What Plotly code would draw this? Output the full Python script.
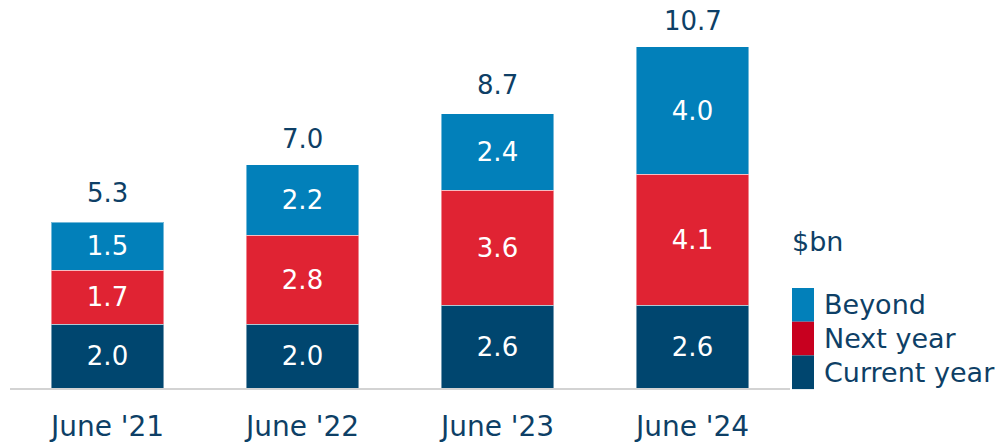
import plotly.graph_objects as go

categories = ["June '21", "June '22", "June '23", "June '24"]
current_year = [2.0, 2.0, 2.6, 2.6]
next_year = [1.7, 2.8, 3.6, 4.1]
beyond = [1.5, 2.2, 2.4, 4.0]
totals = [5.3, 7.0, 8.7, 10.7]
series_names = ["Current year", "Next year", "Beyond"]

NAVY = "#00466F"
RED = "#E02333"
BLUE = "#0280BA"
LEG_RED = "#C8001F"
TEXT = "#0E3F66"
FONT = "DejaVu Sans"
FS = 26
FS_TXT = 28
FS_LEG = 27

# page offset (body margin) 8px; plot area in page coords: x 10..790, y 8..388
OFF = 8
PX0, PX1, PY0, PY1 = 10, 790, 8, 388


def px(x):
    return (x - PX0) / (PX1 - PX0)


def py(y):
    return (PY1 - y) / (PY1 - PY0)


fig = go.Figure()
for name, vals, col in [(series_names[0], current_year, NAVY),
                        (series_names[1], next_year, RED),
                        (series_names[2], beyond, BLUE)]:
    fig.add_trace(go.Bar(
        x=categories, y=vals, name=name,
        marker=dict(color=col, line=dict(color="rgba(255,255,255,0.45)", width=1)),
        width=0.575,
        texttemplate="%{y:.1f}", textposition="inside", insidetextanchor="middle",
        textfont=dict(color="white", size=FS, family=FONT),
        constraintext="none", showlegend=False, hoverinfo="skip",
    ))

for c, t in zip(categories, totals):
    fig.add_annotation(x=c, y=t, text=f"{t:.1f}", showarrow=False,
                       yanchor="middle", yshift=26,
                       font=dict(color=TEXT, size=FS, family=FONT))

# manual legend
leg_items = [(series_names[2], BLUE), (series_names[1], LEG_RED), (series_names[0], NAVY)]
box_top = 288
box_h = 33.7
for i, (name, col) in enumerate(leg_items):
    y0 = box_top + i * box_h
    y1 = y0 + box_h
    fig.add_shape(type="rect", xref="paper", yref="paper",
                  x0=px(792), x1=px(814), y0=py(y1), y1=py(y0),
                  fillcolor=col, line=dict(width=0))
    fig.add_annotation(xref="paper", yref="paper",
                       x=px(822), y=py((y0 + y1) / 2),
                       xanchor="left", yanchor="middle", text=name, showarrow=False,
                       font=dict(color=TEXT, size=FS_LEG, family=FONT))
fig.add_annotation(xref="paper", yref="paper",
                   x=px(790), y=py(241),
                   xanchor="left", yanchor="middle", text="$bn", showarrow=False,
                   font=dict(color=TEXT, size=FS_LEG, family=FONT))

W, H = 1003 - OFF, 442 - OFF
fig.update_layout(
    barmode="stack",
    width=W, height=H,
    margin=dict(l=PX0 - OFF, r=W - (PX1 - OFF), t=PY0 - OFF, b=H - (PY1 - OFF)),
    paper_bgcolor="white", plot_bgcolor="white",
    font=dict(family=FONT, color=TEXT, size=FS),
    xaxis=dict(showline=True, linecolor="#D3D3D3", linewidth=2, ticks="",
               tickfont=dict(size=FS_TXT, color=TEXT, family=FONT), showgrid=False,
               range=[-0.5, 3.5], ticklabelstandoff=12),
    yaxis=dict(visible=False, range=[0, 380 / 31.87], showgrid=False, zeroline=False),
)

fig.write_html("out.html")
